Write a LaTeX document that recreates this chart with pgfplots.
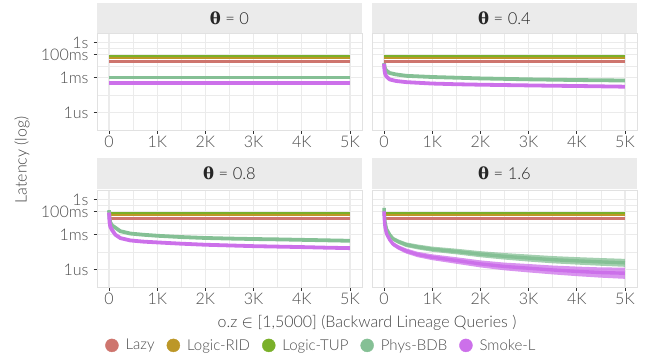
\documentclass[border=0pt]{standalone}
\usepackage{fontspec}
\setmainfont{Lato}[UprightFont=* Light]
\newfontfamily\dvs{DejaVu Serif}
\usepackage{pgfplots}
\pgfplotsset{compat=1.18}
\usepackage{pgfplotstable}

\definecolor{lazyc}{RGB}{206,117,110}
\definecolor{ridc}{RGB}{188,151,40}
\definecolor{tupc}{RGB}{122,176,42}
\definecolor{physc}{RGB}{133,192,149}
\definecolor{smokec}{RGB}{204,112,234}
\definecolor{gridc}{RGB}{235,235,235}
\definecolor{borderc}{RGB}{225,225,225}
\definecolor{stripc}{RGB}{235,235,235}
\definecolor{tickc}{RGB}{51,51,51}
\definecolor{labc}{RGB}{77,77,77}
\definecolor{titc}{RGB}{68,68,68}

% flat series (log10 of latency in seconds)
\pgfplotstableread{
x lazy rid tup
0 -1.63 -1.23 -1.13
5000 -1.63 -1.23 -1.13
}\flatA
\pgfplotstableread{
x lazy rid tup
0 -1.63 -1.23 -1.14
5000 -1.63 -1.23 -1.14
}\flatB
\pgfplotstableread{
x lazy rid tup
0 -1.63 -1.25 -1.13
5000 -1.63 -1.25 -1.13
}\flatC
\pgfplotstableread{
x lazy rid tup
0 -1.63 -1.25 -1.13
5000 -1.63 -1.25 -1.13
}\flatD

% theta = 0
\pgfplotstableread{
x phys smoke
0 -2.98 -3.48
5000 -2.98 -3.48
}\curA
% theta = 0.4
\pgfplotstableread{
x phys smoke
0 -1.75 -1.80
10 -2.05 -2.40
25 -2.25 -2.70
50 -2.40 -2.90
117 -2.60 -3.15
250 -2.72 -3.28
462 -2.84 -3.38
1000 -2.94 -3.50
1500 -3.00 -3.56
2000 -3.06 -3.60
2500 -3.10 -3.63
3000 -3.14 -3.66
3500 -3.17 -3.69
4000 -3.20 -3.71
4500 -3.22 -3.74
5000 -3.24 -3.77
}\curB
% theta = 0.8
\pgfplotstableread{
x phys smoke
0 -0.90 -1.10
10 -1.60 -1.90
25 -1.95 -2.30
62 -2.20 -2.60
131 -2.40 -3.00
234 -2.70 -3.29
441 -2.90 -3.49
700 -3.00 -3.59
1000 -3.09 -3.66
1500 -3.20 -3.77
2000 -3.28 -3.86
2500 -3.33 -3.92
3000 -3.37 -3.98
3500 -3.40 -4.02
4000 -3.44 -4.06
4500 -3.48 -4.11
5000 -3.52 -4.15
}\curC
% theta = 1.6 (centre of the point clouds)
\pgfplotstableread{
x phys smoke
0 -0.70 -1.00
5 -1.20 -1.60
20 -1.90 -2.30
50 -2.50 -2.90
117 -3.00 -3.43
186 -3.35 -3.80
300 -3.60 -4.10
462 -3.86 -4.40
700 -4.05 -4.70
1000 -4.24 -4.93
1500 -4.44 -5.21
2000 -4.67 -5.50
2500 -4.85 -5.72
3000 -5.00 -5.87
3500 -5.14 -6.02
4000 -5.24 -6.14
4500 -5.33 -6.24
5000 -5.41 -6.30
}\curD
% theta = 1.6: outline of the Phys-BDB point cloud (upper edge, then lower edge back)
\pgfplotstableread{
x y
0 -0.55
5 -1.05
20 -1.75
50 -2.34
117 -2.83
186 -3.17
300 -3.41
462 -3.66
700 -3.84
1000 -4.02
1500 -4.20
2000 -4.41
2500 -4.57
3000 -4.70
3500 -4.83
4000 -4.92
4500 -5.00
5000 -5.07
5000 -5.75
4500 -5.66
4000 -5.56
3500 -5.45
3000 -5.30
2500 -5.13
2000 -4.93
1500 -4.68
1000 -4.46
700 -4.26
462 -4.06
300 -3.79
186 -3.53
117 -3.17
50 -2.66
20 -2.05
5 -1.35
0 -0.85
}\bandP
% theta = 1.6: outline of the Smoke-L point cloud
\pgfplotstableread{
x y
0 -0.85
5 -1.45
20 -2.15
50 -2.73
117 -3.25
186 -3.61
300 -3.90
462 -4.18
700 -4.47
1000 -4.68
1500 -4.93
2000 -5.20
2500 -5.39
3000 -5.51
3500 -5.64
4000 -5.73
4500 -5.80
5000 -5.82
5000 -6.78
4500 -6.68
4000 -6.55
3500 -6.40
3000 -6.23
2500 -6.05
2000 -5.80
1500 -5.49
1000 -5.18
700 -4.93
462 -4.62
300 -4.30
186 -3.99
117 -3.61
50 -3.07
20 -2.45
5 -1.75
0 -1.15
}\bandS

\pgfplotsset{
  panel/.style={
    width=265pt, height=97pt, scale only axis,
    xmin=-250, xmax=5250, ymin=-7.48, ymax=0.83,
    xtick={0,1000,2000,3000,4000,5000},
    xticklabels={0,1K,2K,3K,4K,5K},
    minor xtick={500,1500,2500,3500,4500},
    ytick={-6,-3,-1,0},
    yticklabels={1us,1ms,100ms,1s},
    minor ytick={-4.5,-2,-0.5},
    grid=both,
    major grid style={draw=gridc, line width=1.1pt},
    minor grid style={draw=gridc, line width=0.6pt},
    axis line style={draw=borderc, line width=0.8pt},
    tick align=outside, xtick pos=left, ytick pos=left,
    major tick length=3.5pt, minor tick length=0pt,
    tick style={draw=tickc, line width=0.7pt},
    ticklabel style={font=\fontsize{16}{19}\selectfont, text=labc},
    xticklabel style={yshift=1pt},
    yticklabel style={xshift=-1.5pt},
    every axis plot/.append style={line cap=butt, line join=round},
  },
  rightpanel/.style={panel, yticklabels={}, ytick style={draw=none}},
  legcirc/.style={legend image code/.code={\fill[#1] (6.5pt,0pt) circle (6.5pt);}},
}

\newcommand{\flatplots}[1]{%
  \addplot[lazyc, line width=2.6pt, forget plot] table[x=x,y=lazy]{#1};
  \addplot[ridc, line width=3.2pt, forget plot] table[x=x,y=rid]{#1};
  \addplot[tupc, line width=2.6pt, forget plot] table[x=x,y=tup]{#1};
}

\begin{document}
\begin{tikzpicture}
\useasboundingbox (0pt,0pt) rectangle (651pt,360pt);

% ---------- theta = 0 ----------
\begin{axis}[panel, at={(97pt,230pt)}, anchor=south west]
\flatplots{\flatA}
\addplot[physc, line width=3.8pt, forget plot] table[x=x,y=phys]{\curA};
\addplot[smokec, line width=3.8pt, forget plot] table[x=x,y=smoke]{\curA};
\end{axis}

% ---------- theta = 0.4 ----------
\begin{axis}[rightpanel, at={(372pt,230pt)}, anchor=south west]
\flatplots{\flatB}
\addplot[physc, line width=3.8pt, forget plot] table[x=x,y=phys]{\curB};
\addplot[smokec, line width=3.8pt, forget plot] table[x=x,y=smoke]{\curB};
\end{axis}

% ---------- theta = 0.8 ----------
\begin{axis}[panel, at={(97pt,73pt)}, anchor=south west,
  legend columns=5,
  legend style={at={(0.843,-0.602)}, anchor=center, draw=none, fill=none,
    font=\fontsize{15}{18}\selectfont, text=labc,
    /tikz/every odd column/.append style={column sep=7pt},
    /tikz/every even column/.append style={column sep=12pt},
    nodes={inner xsep=0pt, inner ysep=2pt}},
  ]
\flatplots{\flatC}
\addplot[physc, line width=3.8pt, forget plot] table[x=x,y=phys]{\curC};
\addplot[smokec, line width=3.8pt, forget plot] table[x=x,y=smoke]{\curC};
\addlegendimage{legcirc, lazyc}\addlegendentry{Lazy}
\addlegendimage{legcirc, ridc}\addlegendentry{Logic-RID}
\addlegendimage{legcirc, tupc}\addlegendentry{Logic-TUP}
\addlegendimage{legcirc, physc}\addlegendentry{Phys-BDB}
\addlegendimage{legcirc, smokec}\addlegendentry{Smoke-L}
\end{axis}

% ---------- theta = 1.6 ----------
\begin{axis}[rightpanel, at={(372pt,73pt)}, anchor=south west]
\flatplots{\flatD}
\addplot[draw=none, fill=physc, fill opacity=0.75, forget plot] table[x=x,y=y]{\bandP};
\addplot[physc, line width=3.4pt, forget plot] table[x=x,y=phys]{\curD};
\addplot[draw=none, fill=smokec, fill opacity=0.75, forget plot] table[x=x,y=y]{\bandS};
\addplot[smokec, line width=3.4pt, forget plot] table[x=x,y=smoke]{\curD};
\end{axis}

% ---------- strips ----------
\fill[stripc] (97pt,327pt) rectangle (362pt,357pt);
\fill[stripc] (372pt,327pt) rectangle (637pt,357pt);
\fill[stripc] (97pt,171pt) rectangle (362pt,202pt);
\fill[stripc] (372pt,171pt) rectangle (637pt,202pt);
\begin{scope}[every node/.style={font=\fontsize{16.5}{19}\selectfont, text=black!85}]
\node at (229.5pt,342pt) {{\dvs\bfseries θ} = 0};
\node at (504.5pt,342pt) {{\dvs\bfseries θ} = 0.4};
\node at (229.5pt,186.5pt) {{\dvs\bfseries θ} = 0.8};
\node at (504.5pt,186.5pt) {{\dvs\bfseries θ} = 1.6};
\end{scope}

% ---------- axis titles ----------
\node[font=\fontsize{16}{19}\selectfont, text=titc] at (367pt,37pt)
  {o.z $\in$ [1,5000] (Backward Lineage Queries )};
\node[font=\fontsize{16}{19}\selectfont, text=titc, rotate=90] at (22pt,200pt)
  {Latency (log)};
\end{tikzpicture}
\end{document}
